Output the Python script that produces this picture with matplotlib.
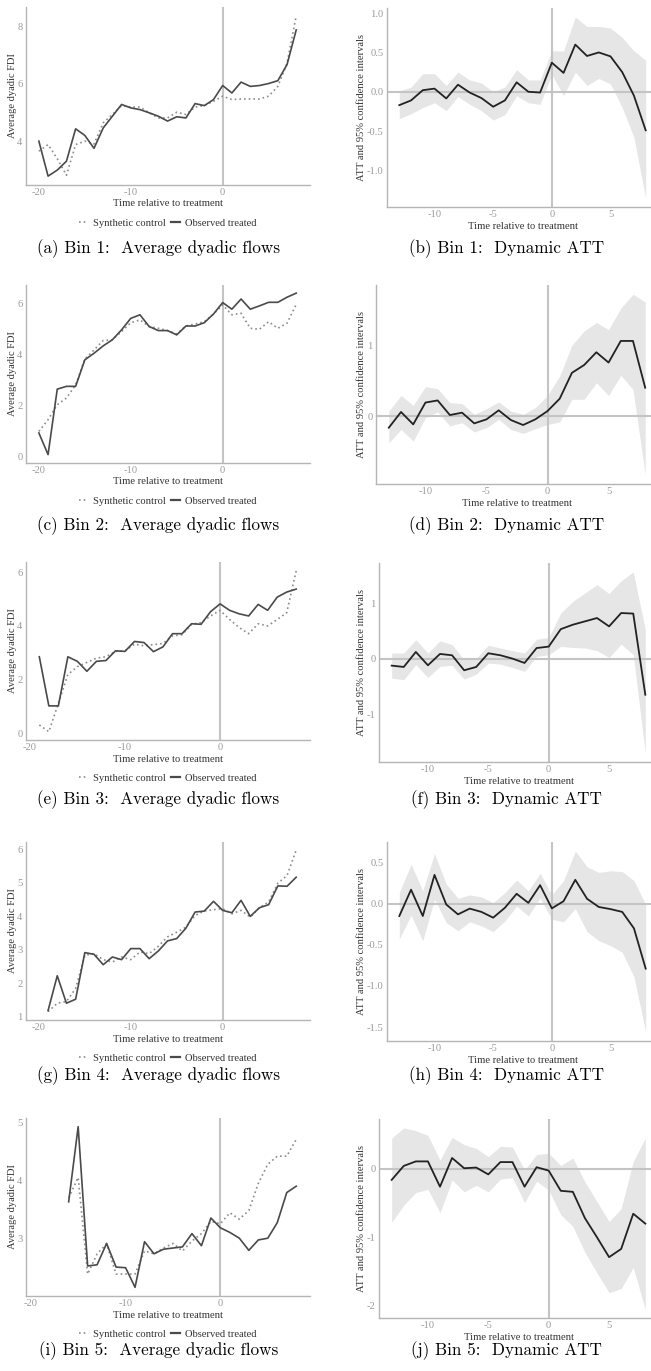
import matplotlib
matplotlib.use("Agg")
import matplotlib.pyplot as plt
from matplotlib.lines import Line2D
import numpy as np

W, H = 651, 1371
DPI = 100

# ---------------- data ----------------
time_20 = list(range(-20, 9))
time_19 = list(range(-19, 9))
time_16 = list(range(-16, 9))
time_att = list(range(-13, 9))

obs_bin1 = [4.0, 2.78, 2.99, 3.30, 4.43, 4.20, 3.75, 4.46, 4.87, 5.28,
            5.16, 5.10, 4.99, 4.87, 4.70, 4.85, 4.81, 5.31, 5.24, 5.45,
            5.94, 5.68, 6.06, 5.91, 5.94, 6.01, 6.11, 6.67, 7.88]
syn_bin1 = [3.65, 3.88, 3.39, 2.81, 3.88, 4.0, 3.9, 4.64, 4.93, 5.24,
            5.19, 5.19, 4.99, 4.81, 4.81, 5.01, 4.93, 5.19, 5.24, 5.39,
            5.57, 5.45, 5.47, 5.47, 5.47, 5.57, 5.91, 6.72, 8.37]

obs_bin2 = [0.92, 0.07, 2.64, 2.75, 2.75, 3.79, 4.05, 4.34, 4.58, 4.97,
            5.42, 5.56, 5.10, 4.94, 4.94, 4.77, 5.12, 5.12, 5.25, 5.59,
            6.04, 5.78, 6.18, 5.78, 5.91, 6.05, 6.05, 6.25, 6.41]
syn_bin2 = [0.98, 1.44, 2.03, 2.29, 2.81, 3.82, 4.18, 4.55, 4.58, 4.90,
            5.25, 5.36, 5.10, 5.03, 4.94, 4.81, 5.12, 5.20, 5.29, 5.59,
            5.95, 5.56, 5.62, 5.03, 4.99, 5.29, 5.03, 5.23, 5.97]

obs_bin3 = [2.85, 1.02, 1.02, 2.85, 2.68, 2.31, 2.68, 2.71, 3.07, 3.05,
            3.42, 3.38, 3.04, 3.22, 3.71, 3.71, 4.08, 4.06, 4.53,
            4.82, 4.58, 4.45, 4.37, 4.80, 4.58, 5.07, 5.26, 5.37]
syn_bin3 = [0.31, 0.06, 1.11, 2.19, 2.48, 2.64, 2.80, 2.85, 3.05, 3.07,
            3.32, 3.26, 3.30, 3.35, 3.63, 3.67, 4.06, 4.12, 4.37,
            4.58, 4.24, 3.94, 3.71, 4.08, 4.00, 4.24, 4.49, 6.05]

obs_bin4 = [1.18, 2.22, 1.40, 1.52, 2.91, 2.86, 2.55, 2.78, 2.70, 3.03,
            3.03, 2.73, 2.96, 3.26, 3.33, 3.64, 4.12, 4.15, 4.44,
            4.17, 4.10, 4.47, 3.99, 4.25, 4.34, 4.90, 4.89, 5.16]
syn_bin4 = [1.15, 1.40, 1.45, 1.84, 2.83, 2.88, 2.70, 2.63, 2.78, 2.70,
            2.93, 2.88, 3.10, 3.38, 3.52, 3.67, 4.02, 4.15, 4.19,
            4.22, 4.07, 4.17, 3.97, 4.25, 4.42, 4.98, 5.21, 5.97]

obs_bin5 = [3.63, 4.93, 2.52, 2.54, 2.91, 2.50, 2.49,
            2.15, 2.94, 2.73, 2.81, 2.83, 2.85, 3.08, 2.87, 3.35,
            3.18, 3.10, 3.00, 2.79, 2.97, 3.00, 3.27, 3.79, 3.90]
syn_bin5 = [3.70, 4.05, 2.38, 2.73, 2.90, 2.38, 2.38,
            2.38, 2.78, 2.73, 2.83, 2.91, 2.78, 2.95, 3.08, 3.29,
            3.25, 3.44, 3.33, 3.48, 3.95, 4.28, 4.42, 4.42, 4.71]

att_bin1 = [-0.17, -0.11, 0.02, 0.04, -0.085, 0.09, -0.01, -0.08, -0.19, -0.11, 0.12, 0.0, -0.01,
            0.37, 0.24, 0.60, 0.455, 0.50, 0.45, 0.25, -0.05, -0.49]
upper_bin1 = [0.01, 0.06, 0.23, 0.23, 0.08, 0.25, 0.15, 0.11, 0.0, 0.06, 0.28, 0.15, 0.15,
              0.52, 0.52, 0.95, 0.83, 0.83, 0.81, 0.69, 0.52, 0.40]
lower_bin1 = [-0.34, -0.28, -0.20, -0.14, -0.24, -0.06, -0.16, -0.24, -0.36, -0.29, -0.05, -0.14, -0.16,
              0.22, -0.05, 0.25, 0.08, 0.17, 0.10, -0.20, -0.58, -1.35]

att_bin2 = [-0.165, 0.057, -0.118, 0.19, 0.22, 0.014, 0.047, -0.104, -0.047, 0.08, -0.057, -0.127, -0.047,
            0.07, 0.245, 0.61, 0.72, 0.90, 0.755, 1.06, 1.06, 0.40]
upper_bin2 = [0.07, 0.29, 0.15, 0.415, 0.387, 0.19, 0.175, 0.024, 0.104, 0.198, 0.07, 0.024, 0.118,
              0.29, 0.566, 1.0, 1.20, 1.32, 1.22, 1.52, 1.72, 1.61]
lower_bin2 = [-0.38, -0.19, -0.354, -0.024, 0.057, -0.14, -0.094, -0.226, -0.165, -0.047, -0.19, -0.245, -0.18,
              -0.118, -0.085, 0.236, 0.236, 0.47, 0.29, 0.575, 0.377, -0.825]

att_bin3 = [-0.126, -0.15, 0.12, -0.12, 0.084, 0.06, -0.21, -0.15, 0.096, 0.06, 0.0, -0.078, 0.19,
            0.216, 0.53, 0.61, 0.67, 0.73, 0.58, 0.82, 0.81, -0.65]
upper_bin3 = [0.10, 0.10, 0.34, 0.10, 0.32, 0.25, -0.02, 0.01, 0.24, 0.19, 0.144, 0.10, 0.35,
              0.38, 0.82, 1.03, 1.18, 1.33, 1.17, 1.40, 1.56, 0.52]
lower_bin3 = [-0.35, -0.38, -0.11, -0.34, -0.14, -0.12, -0.37, -0.28, -0.08, -0.10, -0.16, -0.23, 0.04,
              0.07, 0.22, 0.20, 0.19, 0.144, 0.02, 0.26, 0.07, -1.70]

att_bin4 = [-0.15, 0.17, -0.15, 0.35, -0.01, -0.13, -0.06, -0.10, -0.17, -0.05, 0.12, 0.01, 0.225,
            -0.057, 0.03, 0.29, 0.06, -0.04, -0.066, -0.10, -0.30, -0.79]
upper_bin4 = [0.135, 0.48, 0.156, 0.61, 0.24, 0.066, 0.107, 0.082, 0.012, 0.135, 0.287, 0.156, 0.37,
              0.107, 0.28, 0.64, 0.45, 0.38, 0.40, 0.39, 0.28, -0.01]
lower_bin4 = [-0.43, -0.14, -0.45, 0.053, -0.23, -0.33, -0.22, -0.27, -0.34, -0.21, -0.03, -0.15, 0.07,
              -0.19, -0.22, -0.06, -0.34, -0.45, -0.51, -0.59, -0.89, -1.56]

att_bin5 = [-0.16, 0.044, 0.11, 0.11, -0.26, 0.16, 0.01, 0.02, -0.08, 0.10, 0.10, -0.26, 0.025,
            -0.025, -0.32, -0.335, -0.72, -1.0, -1.29, -1.17, -0.655, -0.80]
upper_bin5 = [0.45, 0.60, 0.56, 0.49, 0.13, 0.46, 0.355, 0.30, 0.18, 0.33, 0.32, -0.015, 0.21,
              0.23, 0.05, 0.16, -0.19, -0.48, -0.77, -0.58, 0.11, 0.45]
lower_bin5 = [-0.78, -0.53, -0.345, -0.30, -0.64, -0.16, -0.335, -0.24, -0.335, -0.15, -0.13, -0.49, -0.18,
              -0.31, -0.67, -0.84, -1.22, -1.52, -1.81, -1.75, -1.44, -2.06]

yticks_flows = [[4, 6, 8], [0, 2, 4, 6], [0, 2, 4, 6], [1, 2, 3, 4, 5, 6], [3, 4, 5]]
yticks_att = [[-1.0, -0.5, 0.0, 0.5, 1.0], [0, 1], [-1, 0, 1], [-1.5, -1.0, -0.5, 0.0, 0.5], [-2, -1, 0]]
att_decimals = [1, 0, 0, 1, 0]
xticks_flows = [-20, -10, 0]
xticks_att = [-10, -5, 0, 5]

captions_left = ["(a) Bin 1:  Average dyadic flows", "(c) Bin 2:  Average dyadic flows",
                 "(e) Bin 3:  Average dyadic flows", "(g) Bin 4:  Average dyadic flows",
                 "(i) Bin 5:  Average dyadic flows"]
captions_right = ["(b) Bin 1:  Dynamic ATT", "(d) Bin 2:  Dynamic ATT", "(f) Bin 3:  Dynamic ATT",
                  "(h) Bin 4:  Dynamic ATT", "(j) Bin 5:  Dynamic ATT"]

flows_time = [time_20, time_20, time_19, time_19, time_16]
flows_obs = [obs_bin1, obs_bin2, obs_bin3, obs_bin4, obs_bin5]
flows_syn = [syn_bin1, syn_bin2, syn_bin3, syn_bin4, syn_bin5]
att_vals = [att_bin1, att_bin2, att_bin3, att_bin4, att_bin5]
att_up = [upper_bin1, upper_bin2, upper_bin3, upper_bin4, upper_bin5]
att_lo = [lower_bin1, lower_bin2, lower_bin3, lower_bin4, lower_bin5]

# ---------------- layout (pixels) ----------------
left_tops = [7, 285, 562, 842, 1118]
left_h = 178
left_x0, left_x1 = 26, 310
left_xlims = [(-21.4, 9.5), (-21.4, 9.5), (-20.4, 9.45), (-21.4, 9.5), (-20.5, 9.45)]
left_ylims = [(2.47, 8.68), (-0.26, 6.73), (-0.25, 6.38), (0.90, 6.21), (2.0, 5.08)]

right_tops = [8, 285, 563, 842, 1119]
right_h = 199
right_x0s = [387, 376, 379, 387, 379]
right_x1 = 658
right_ylims = [(-1.465, 1.065), (-0.96, 1.85), (-1.86, 1.72), (-1.67, 0.75), (-2.18, 0.73)]
right_xlim = (-14.05, 9.05)

caption_y = [249, 526, 800, 1076, 1351]

SERIF = "Liberation Serif"
TICK_C = "#9a9a9a"
TITLE_C = "#333333"
AXIS_C = "#b5b5b5"
ZERO_C = "#c4c4c4"
FS = 7.6

fig = plt.figure(figsize=(W / DPI, H / DPI), dpi=DPI)
fig.patch.set_facecolor("white")


def px_axes(x0, top, x1, bottom):
    return fig.add_axes([x0 / W, 1 - bottom / H, (x1 - x0) / W, (bottom - top) / H])


def ftext(x, y, s, **kw):
    fig.text(x / W, 1 - y / H, s, **kw)


def style(ax):
    for s in ["top", "right"]:
        ax.spines[s].set_visible(False)
    for s in ["left", "bottom"]:
        ax.spines[s].set_color(AXIS_C)
        ax.spines[s].set_linewidth(1.0)
    ax.tick_params(length=0, pad=2.5, labelsize=FS, labelcolor=TICK_C)
    for lab in ax.get_xticklabels() + ax.get_yticklabels():
        lab.set_fontfamily(SERIF)
    ax.set_facecolor("white")


for k in range(5):
    # ---- left: average dyadic flows ----
    top = left_tops[k]
    bot = top + left_h
    ax = px_axes(left_x0, top, left_x1, bot)
    ax.axvline(0, color=ZERO_C, lw=1.5, zorder=1)
    ax.plot(flows_time[k], flows_syn[k], color="#8c8c8c", lw=1.2,
            linestyle=(0, (1, 1.8)), zorder=2)
    ax.plot(flows_time[k], flows_obs[k], color="#4a4a4a", lw=1.2, zorder=3)
    ax.set_xlim(*left_xlims[k])
    ax.set_ylim(*left_ylims[k])
    ax.set_xticks(xticks_flows)
    ax.set_xticklabels([str(v) for v in xticks_flows])
    ax.set_yticks(yticks_flows[k])
    ax.set_yticklabels([str(v) for v in yticks_flows[k]])
    style(ax)
    cx = (left_x0 + left_x1) / 2
    ftext(cx, bot + 19, "Time relative to treatment", ha="center", va="center",
          fontsize=FS, color=TITLE_C, family=SERIF)
    ftext(12.7, (top + bot) / 2, "Average dyadic FDI", ha="center", va="center",
          rotation=90, fontsize=FS, color=TITLE_C, family=SERIF)
    handles = [Line2D([], [], color="#8c8c8c", lw=1.2, linestyle=(0, (1, 1.8))),
               Line2D([], [], color="#4a4a4a", lw=1.6)]
    leg = fig.legend(handles, ["Synthetic control", "Observed treated"], loc="center",
                     bbox_to_anchor=(cx / W, 1 - (bot + 38) / H), ncol=2, frameon=False,
                     prop={"family": SERIF, "size": FS}, handlelength=0.8,
                     handletextpad=0.5, columnspacing=0.5, borderpad=0, borderaxespad=0)
    for t in leg.get_texts():
        t.set_color(TITLE_C)
    ftext(158.5, caption_y[k], captions_left[k], ha="center", va="center",
          fontsize=12.3, family="cmr10", color="black")

    # ---- right: dynamic ATT ----
    top = right_tops[k]
    bot = top + right_h
    x0 = right_x0s[k]
    ax = px_axes(x0, top, right_x1, bot)
    ax.fill_between(time_att, att_lo[k], att_up[k], color="#e6e6e6", lw=0, zorder=1)
    ax.axvline(0, color=ZERO_C, lw=1.5, zorder=2)
    ax.axhline(0, color=ZERO_C, lw=1.5, zorder=2)
    ax.plot(time_att, att_vals[k], color="#222222", lw=1.3, zorder=3)
    ax.set_xlim(*right_xlim)
    ax.set_ylim(*right_ylims[k])
    ax.set_xticks(xticks_att)
    ax.set_xticklabels([str(v) for v in xticks_att])
    ax.set_yticks(yticks_att[k])
    d = att_decimals[k]
    ax.set_yticklabels([f"{v:.{d}f}" for v in yticks_att[k]])
    style(ax)
    cx = (x0 + right_x1) / 2
    ftext(cx, bot + 19.5, "Time relative to treatment", ha="center", va="center",
          fontsize=FS, color=TITLE_C, family=SERIF)
    ftext(361.7, (top + bot) / 2, "ATT and 95% confidence intervals", ha="center",
          va="center", rotation=90, fontsize=FS, color=TITLE_C, family=SERIF)
    ftext(506.8, caption_y[k], captions_right[k], ha="center", va="center",
          fontsize=12.3, family="cmr10", color="black")

fig.savefig("out.png", dpi=DPI, facecolor="white")
